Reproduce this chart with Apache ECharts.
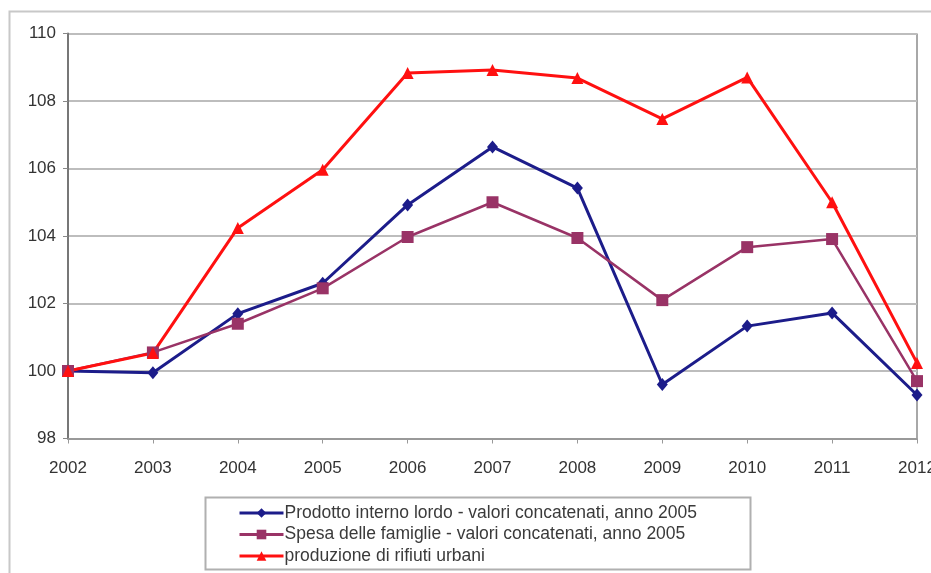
<!DOCTYPE html>
<html>
<head>
<meta charset="utf-8">
<script src="https://cdn.jsdelivr.net/npm/echarts@6/dist/echarts.min.js"></script>
<style>html,body{margin:0;padding:0;background:#fff;}#c{width:931px;height:573px;}</style>
</head>
<body>
<div id="c"></div>
<script>
var years = ['2002','2003','2004','2005','2006','2007','2008','2009','2010','2011','2012'];
var pil = [100.0, 99.95, 101.7, 102.6, 104.92, 106.64, 105.42, 99.6, 101.33, 101.72, 99.29];
var spesa = [100.0, 100.55, 101.4, 102.45, 103.97, 105.0, 103.94, 102.1, 103.67, 103.91, 99.7];
var rifiuti = [100.0, 100.53, 104.24, 105.96, 108.83, 108.92, 108.68, 107.47, 108.7, 105.0, 100.24];
var names = ['Prodotto interno lordo - valori concatenati, anno 2005','Spesa delle famiglie - valori concatenati, anno 2005','produzione di rifiuti urbani'];

var chart = echarts.init(document.getElementById('c'), null, {renderer:'canvas'});
var font = 'Liberation Sans, Arial, sans-serif';
chart.setOption({
  animation: false,
  backgroundColor: '#fff',
  graphic: [
    {type:'rect', shape:{x:9.5,y:11.5,width:940,height:600}, style:{fill:'none',stroke:'#c8c8c8',lineWidth:2}, z:-1},
    {type:'rect', shape:{x:205.5,y:497.5,width:545,height:72}, style:{fill:'#fff',stroke:'#b0b0b0',lineWidth:2}, z:-1},
    {type:'line', shape:{x1:917,y1:33.5,x2:917,y2:438.5}, style:{stroke:'#a8a8a8',lineWidth:2}}
  ],
  grid: {left:68, right:14, top:33.5, bottom:134.5, containLabel:false, outerBoundsMode:'none'},
  xAxis: {
    type:'category', data: years, boundaryGap:false,
    axisLine:{lineStyle:{color:'#999',width:2}},
    axisTick:{show:true, alignWithLabel:true, length:5, lineStyle:{color:'#999'}},
    axisLabel:{color:'#333', fontFamily:font, fontSize:17, margin:21},
    splitLine:{show:false}
  },
  yAxis: {
    type:'value', min:98, max:110, interval:2,
    axisLine:{show:true, lineStyle:{color:'#777',width:2}},
    axisTick:{show:true, length:5, lineStyle:{color:'#888'}},
    axisLabel:{color:'#333', fontFamily:font, fontSize:17, margin:12},
    splitLine:{show:true, lineStyle:{color:'#bdbdbd', width:2}}
  },
  legend: {
    orient:'vertical', left:233, top:499, itemWidth:44, itemHeight:12, itemGap:3.5,
    lineStyle:{width:3},
    textStyle:{fontFamily:font, fontSize:17.5, color:'#3a3a3a', padding:[0,0,0,-4]},
    data: names
  },
  series: [
    {name:names[0], type:'line', data:pil, symbol:'diamond', symbolSize:[11,13], color:'#1c1c8a', lineStyle:{width:3, color:'#1c1c8a'}, itemStyle:{color:'#1c1c8a'}},
    {name:names[1], type:'line', data:spesa, symbol:'rect', symbolSize:12, color:'#993366', lineStyle:{width:2.5, color:'#993366'}, itemStyle:{color:'#993366'}},
    {name:names[2], type:'line', data:rifiuti, symbol:'triangle', symbolSize:[12,12], color:'#ff1010', lineStyle:{width:3, color:'#ff1010'}, itemStyle:{color:'#ff1010'}}
  ]
});
</script>
</body>
</html>
